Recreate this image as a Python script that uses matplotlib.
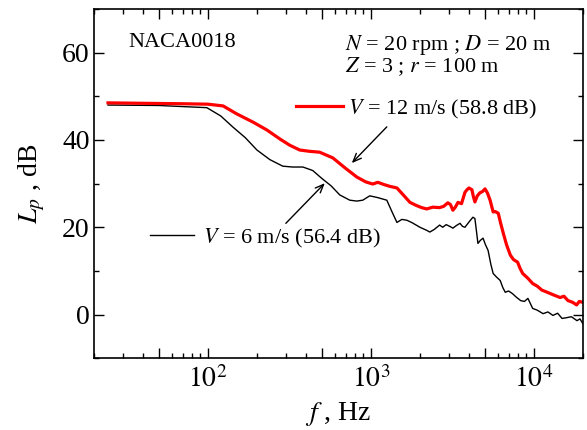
import math

import matplotlib
matplotlib.use('Agg')
import matplotlib.pyplot as plt
from matplotlib.ticker import FixedLocator, FuncFormatter, MultipleLocator
from matplotlib.lines import Line2D

plt.rcParams['font.family'] = ['Liberation Serif', 'DejaVu Serif']
plt.rcParams['mathtext.fontset'] = 'stix'

# V = 12 m/s (red)
f_red = [24.4, 40, 70, 100, 124, 150, 189, 230, 280, 318, 366, 420, 485, 584, 700,
         821, 930, 1027, 1104, 1200, 1300, 1446, 1600, 1738, 1900, 2050, 2200, 2400,
         2642, 2800, 2967, 3080, 3188, 3300, 3425, 3600, 3780, 3890, 4000, 4170, 4260,
         4350, 4500, 4670, 4850, 5020, 5200, 5390, 5630, 5800, 6050, 6250, 6500, 6800,
         7180, 7500, 7950, 8250, 8550, 9200, 9840, 10500, 11200, 12100, 13000, 14500,
         15300, 16200, 17300, 18300, 19000, 20000]
lp_red = [48.5, 48.4, 48.3, 48.2, 47.8, 46.0, 44.1, 42.3, 40.1, 38.8, 37.7, 37.4, 37.2,
          35.9, 33.5, 31.5, 30.4, 29.9, 30.3, 29.8, 29.4, 29.0, 27.2, 25.7, 25.0, 24.5,
          24.2, 24.6, 24.5, 24.8, 25.6, 25.2, 23.9, 24.6, 25.7, 25.4, 28.0, 28.6, 29.0,
          28.6, 27.0, 25.8, 27.2, 27.9, 28.2, 28.8, 27.8, 26.2, 23.5, 23.6, 23.2, 21.0,
          18.6, 16.0, 13.6, 12.6, 12.0, 10.5, 9.4, 8.3, 7.1, 6.5, 5.6, 5.1, 4.6, 3.9,
          4.2, 3.2, 2.8, 2.2, 3.0, 2.8]

# V = 6 m/s (black)
f_blk = [24.4, 50, 98.6, 120, 142, 170, 200, 240, 288, 330, 383, 440, 500, 570, 645,
         743, 820, 892, 985, 1100, 1253, 1350, 1446, 1550, 1666, 1800, 2000, 2200, 2300,
         2450, 2642, 2760, 2900, 3050, 3188, 3350, 3525, 3650, 3780, 4000, 4230, 4350,
         4450, 4540, 4700, 4880, 5050, 5240, 5450, 5630, 5900, 6220, 6450, 6680, 7000,
         7390, 7800, 8300, 8750, 9200, 9840, 10500, 11400, 12200, 13100, 14000, 14900,
         15970, 17000, 18400, 19200, 20000]
lp_blk = [48.0, 47.9, 47.4, 45.5, 43.0, 40.5, 37.7, 35.5, 34.0, 33.8, 33.8, 33.0, 31.2,
          29.5, 27.4, 26.2, 26.0, 26.2, 27.2, 26.8, 26.2, 23.5, 21.1, 21.8, 21.6, 21.0,
          20.0, 19.3, 18.9, 19.5, 20.5, 20.0, 20.6, 20.2, 19.8, 20.4, 20.9, 20.2, 20.0,
          21.2, 22.3, 22.0, 19.0, 16.3, 17.0, 17.5, 16.0, 14.7, 11.5, 9.4, 8.6, 7.8, 6.2,
          5.1, 5.4, 4.8, 4.0, 3.2, 3.0, 3.7, 1.4, 1.0, 0.2, 0.6, -0.2, 0.3, -0.9, -0.7,
          -0.5, -1.4, -1.0, -2.1]

lbl_red = r'$V$ = 12 m/s (58.8 dB)'
lbl_blk = r'$V$ = 6 m/s (56.4 dB)'

fig = plt.figure(figsize=(5.87, 4.30), dpi=100)
ax = fig.add_axes([0.160, 0.167, 0.833, 0.812])

ax.plot(f_blk, lp_blk, color='black', lw=1.0)
ax.plot(f_red, lp_red, color='#ff0000', lw=2.3)

ax.set_xscale('log')
ax.set_xlim(20, 20000)
ax.set_ylim(-10, 70)

# long ticks at 1 and 5 per decade, labels only at powers of ten
ax.xaxis.set_major_locator(FixedLocator([50, 100, 500, 1000, 5000, 10000]))
ax.xaxis.set_major_formatter(FuncFormatter(
    lambda v, p: r'$10^{%d}$' % round(math.log10(v)) if v in (100, 1000, 10000) else ''))
minors = [m * 10 ** e for e in (1, 2, 3, 4) for m in (2, 3, 4, 6, 7, 8, 9)]
ax.xaxis.set_minor_locator(FixedLocator(minors))
ax.yaxis.set_major_locator(MultipleLocator(20))
ax.yaxis.set_minor_locator(MultipleLocator(10))

ax.tick_params(which='both', direction='in', top=True, right=True, width=1.0)
ax.tick_params(which='major', length=7.2, labelsize=20, pad=3)
ax.tick_params(axis='x', which='major', pad=6)
ax.tick_params(which='minor', length=3.6)
for s in ax.spines.values():
    s.set_linewidth(1.2)

ax.set_xlabel(r'$f$ , Hz', fontsize=20, labelpad=5)
ax.set_ylabel(r'$L_p$ , dB', fontsize=20, labelpad=11)

ax.text(0.0695, 0.903, 'NACA0018', transform=ax.transAxes, fontsize=16, va='center')
ax.text(0.513, 0.897, r'$N$ = 20 rpm ; $D$ = 20 m', transform=ax.transAxes, fontsize=16, va='center')
ax.text(0.513, 0.834, r'$Z$ = 3 ; $r$ = 100 m', transform=ax.transAxes, fontsize=16, va='center')

leg1 = ax.legend([Line2D([], [], color='#ff0000', lw=2.3)], [lbl_red], loc='center left',
                 bbox_to_anchor=(0.413, 0.713), frameon=False, fontsize=16, borderpad=0,
                 borderaxespad=0, handlelength=2.1, handletextpad=0.25)
ax.add_artist(leg1)
ax.legend([Line2D([], [], color='black', lw=1.0)], [lbl_blk], loc='center left',
          bbox_to_anchor=(0.1145, 0.344), frameon=False, fontsize=16, borderpad=0,
          borderaxespad=0, handlelength=2.0, handletextpad=0.4)

arrow = dict(arrowstyle='->,head_length=0.6,head_width=0.25', color='black', lw=1.0,
             shrinkA=0, shrinkB=0)
ax.annotate('', xy=(764, 34.7), xytext=(1253, 43.0), arrowprops=arrow)
ax.annotate('', xy=(522, 30.1), xytext=(301, 20.9), arrowprops=arrow)

fig.savefig('out.png', dpi=100)
